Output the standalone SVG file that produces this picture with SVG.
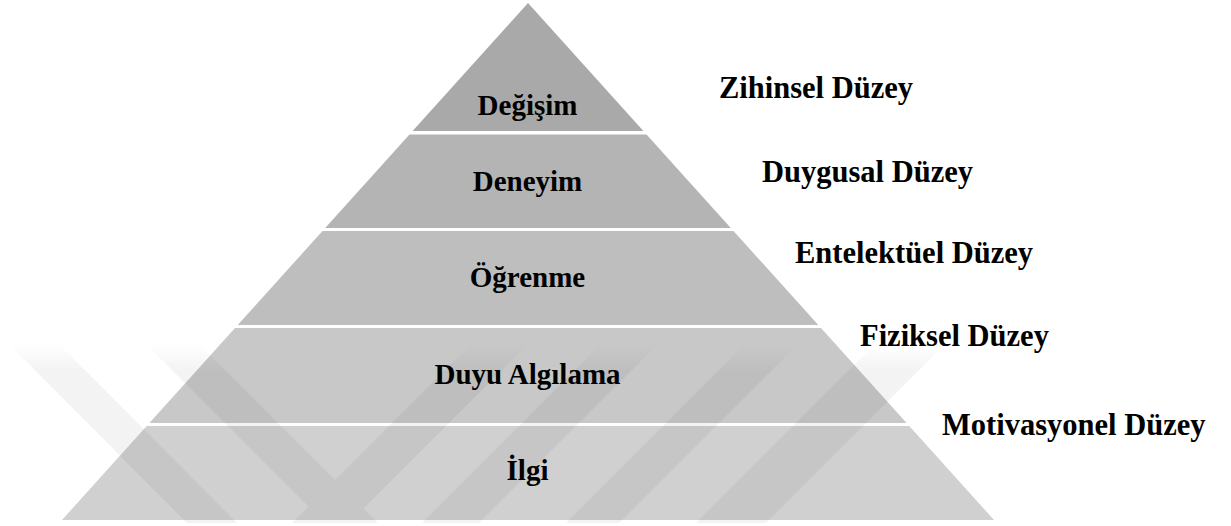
<svg xmlns="http://www.w3.org/2000/svg" width="1231" height="526" viewBox="0 0 1231 526">
<style>
  text { font-family: 'Liberation Serif', 'DejaVu Serif', serif; font-weight: 700; font-size: 29px; fill: #000000; }
  .mid { text-anchor: middle; }
  .side { font-size: 30.5px; }
</style>
<defs>
  <linearGradient id="wmfade" gradientUnits="userSpaceOnUse" x1="0" y1="345" x2="0" y2="372">
    <stop offset="0" stop-color="#000" stop-opacity="0"/>
    <stop offset="1" stop-color="#000" stop-opacity="1"/>
  </linearGradient>
</defs>
<rect width="1231" height="526" fill="#ffffff"/>
<g id="level-degisim">
  <polygon points="528,3 643.4,131 412.6,131" fill="#a9a9a9"/>
  <text class="mid" font-family="Liberation Serif" x="527.5" y="115">Değişim</text>
</g>
<g id="level-deneyim">
  <polygon points="409.5,134.5 646.5,134.5 730.8,228 325.2,228" fill="#b4b4b4"/>
  <text class="mid" font-family="Liberation Serif" x="527.5" y="191">Deneyim</text>
</g>
<g id="level-ogrenme">
  <polygon points="322.5,231 733.5,231 818.3,325 237.7,325" fill="#bebebe"/>
  <text class="mid" font-family="Liberation Serif" x="527.5" y="287">Öğrenme</text>
</g>
<g id="level-duyu">
  <polygon points="235,328 821,328 906.6,423 149.4,423" fill="#c8c8c8"/>
  <text class="mid" font-family="Liberation Serif" x="527.5" y="384">Duyu Algılama</text>
</g>
<g id="level-ilgi">
  <polygon points="146.7,426 909.3,426 994,520 62,520" fill="#d0d0d0"/>
  <text class="mid" font-family="Liberation Serif" x="527.5" y="480">İlgi</text>
</g>
<g id="watermark" opacity="0.045" fill="url(#wmfade)">
  <polygon points="10,345 60,345 237,523 187,523"/>
  <polygon points="147,345 200,345 378,523 325,523"/>
  <polygon points="470,345 527,345 349,523 292,523"/>
  <polygon points="600,345 657,345 479,523 422,523"/>
  <polygon points="744,345 797,345 619,523 566,523"/>
  <polygon points="867,352 937,352 766,523 696,523"/>
</g>
<g id="side-labels" font-family="Liberation Serif">
  <text class="side" x="719" y="98">Zihinsel Düzey</text>
  <text class="side" x="762" y="182">Duygusal Düzey</text>
  <text class="side" x="795" y="263">Entelektüel Düzey</text>
  <text class="side" x="860" y="346">Fiziksel Düzey</text>
  <text class="side" x="942" y="435">Motivasyonel Düzey</text>
</g>
<g id="connectors"/>
</svg>
